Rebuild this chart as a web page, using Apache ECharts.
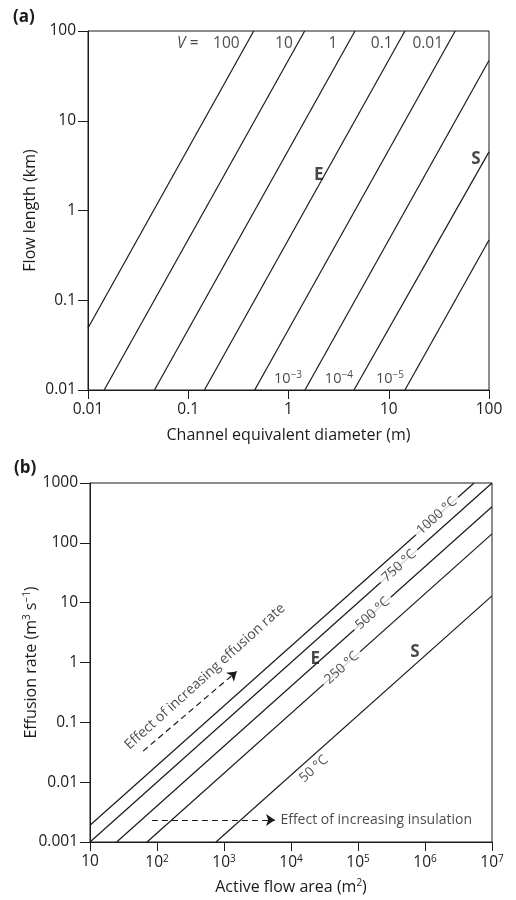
<!DOCTYPE html>
<html>
<head>
<meta charset="utf-8">
<script src="https://cdn.jsdelivr.net/npm/echarts@6/dist/echarts.min.js"></script>
<style>html,body{margin:0;padding:0;background:#fff}</style>
</head>
<body>
<div id="main" style="width:516px;height:900px;"></div>
<script type="text/javascript">
// ---- panel (a): flow length (km) vs channel diameter (m), one line per V ----
var aNames  = ['100', '10', '1', '0.1', '0.01', '10{sup|−3}', '10{sup|−4}', '10{sup|−5}'];
var aStartD = [0.01, 0.0145, 0.046, 0.145, 0.46, 1.46, 4.5, 14.5];
var aStartL = [0.049, 0.01, 0.01, 0.01, 0.01, 0.01, 0.01, 0.01];
var aEndD   = [0.45, 1.45, 4.6, 14.5, 46, 100, 100, 100];
var aEndL   = [100, 100, 100, 100, 100, 47, 4.5, 0.47];
var aTicksX = ['0.01', '0.1', '1', '10', '100'];
var aTicksY = ['0.01', '0.1', '1', '10', '100'];
// where the V labels sit (data coords)
var aTopLabelD = [0.24, 0.9, 2.77, 8.5, 24.5];
var aTopLabelL = 73;
var aLowLabelD = [0.99, 3.18, 10.3];
var aLowLabelL = 0.0133;

// ---- panel (b): effusion rate vs active flow area, one line per temperature ----
var bNames  = ['1000 °C', '750 °C', '500 °C', '250 °C', '50 °C'];
var bStartA = [10, 10, 25, 71, 760];
var bStartQ = [0.0019, 0.001, 0.001, 0.001, 0.001];
var bEndA   = [5.4e6, 1e7, 1e7, 1e7, 1e7];
var bEndQ   = [1000, 1000, 400, 141, 13];
var bLabelA = [1.5e6, 4.1e5, 1.66e5, 5.75e4, 2.19e4];
var bLabelQ = [280, 41, 6.6, 0.81, 0.0166];
var bTicksX = ['10', '10{sup|2}', '10{sup|3}', '10{sup|4}', '10{sup|5}', '10{sup|6}', '10{sup|7}'];
var bTicksY = ['0.001', '0.01', '0.1', '1', '10', '100', '1000'];

var ink = '#1c1a1b';
var FONT = 'Open Sans';
var SLOPE_B = 42;   // on-screen angle of panel (b) lines

function logAxis(grid, min, max, labels, name, isY, gap) {
    var lo = Math.round(Math.log10(min));
    return {
        type: 'log', logBase: 10, gridIndex: grid, min: min, max: max,
        splitNumber: Math.round(Math.log10(max)) - lo,
        name: name, nameLocation: 'middle', nameGap: gap, nameRotate: isY ? 90 : 0,
        nameMoveOverlap: false,
        nameTextStyle: {fontSize: 16, color: ink, fontFamily: FONT,
            rich: {sup: {fontSize: 10, padding: [0, 0, 8, 0], color: ink}}},
        axisLine: {show: true, onZero: false, lineStyle: {color: ink, width: 1}},
        axisTick: {show: true, length: isY ? 10 : 9, lineStyle: {color: ink, width: 1}},
        minorTick: {show: false},
        splitLine: {show: false},
        axisLabel: {
            fontSize: 15.5, color: ink, fontFamily: FONT, margin: 12,
            rich: {sup: {fontSize: 10, padding: [0, 0, 8, 0], color: ink, fontFamily: FONT}},
            formatter: function (v) {
                return labels[Math.round(Math.log10(v)) - lo];
            }
        }
    };
}

function textItem(x, y, text, extra) {
    var lab = {show: true, formatter: text, position: 'inside', color: ink, fontSize: 15.5, fontFamily: FONT,
        rich: {sup: {fontSize: 10, padding: [0, 0, 8, 0], color: ink}, it: {fontStyle: 'italic', fontSize: 15.5, color: ink}}};
    for (var k in extra) lab[k] = extra[k];
    return {value: [x, y], label: lab};
}

var series = [];
for (var i = 0; i < aNames.length; i++) {
    series.push({type: 'line', xAxisIndex: 0, yAxisIndex: 0, symbol: 'none', silent: true, z: 2,
        lineStyle: {color: ink, width: 1.2},
        data: [[aStartD[i], aStartL[i]], [aEndD[i], aEndL[i]]]});
}
for (i = 0; i < bNames.length; i++) {
    series.push({type: 'line', xAxisIndex: 1, yAxisIndex: 1, symbol: 'none', silent: true, z: 2,
        lineStyle: {color: ink, width: 1.2},
        data: [[bStartA[i], bStartQ[i]], [bEndA[i], bEndQ[i]]]});
}

// labels for panel (a)
var aText = [textItem(0.099, aTopLabelL, '{it|V} =')];
for (i = 0; i < 5; i++) aText.push(textItem(aTopLabelD[i], aTopLabelL, aNames[i]));
for (i = 0; i < 3; i++) aText.push(textItem(aLowLabelD[i], aLowLabelL, aNames[i + 5], {fontSize: 14.5}));
aText.push(textItem(2.0, 2.5, 'E', {fontWeight: 'bold', fontSize: 17}));
aText.push(textItem(74, 3.7, 'S', {fontWeight: 'bold', fontSize: 17}));
series.push({type: 'scatter', xAxisIndex: 0, yAxisIndex: 0, symbolSize: 1, silent: true, z: 5,
    itemStyle: {color: 'rgba(0,0,0,0)'}, data: aText});

// labels for panel (b)
var bText = [];
for (i = 0; i < bNames.length; i++) {
    bText.push(textItem(bLabelA[i], bLabelQ[i], bNames[i],
        {rotate: SLOPE_B, fontSize: 13.5, backgroundColor: '#fff', padding: [0, 4]}));
}
bText.push(textItem(2.3e4, 1.12, 'E', {fontWeight: 'bold', fontSize: 17}));
bText.push(textItem(7.1e5, 1.5, 'S', {fontWeight: 'bold', fontSize: 17}));
bText.push(textItem(520, 0.58, 'Effect of increasing effusion rate', {rotate: SLOPE_B, fontSize: 14}));
bText.push(textItem(6600, 0.00233, 'Effect of increasing insulation', {position: 'right', distance: 1, fontSize: 14}));
series.push({type: 'scatter', xAxisIndex: 1, yAxisIndex: 1, symbolSize: 1, silent: true, z: 5,
    itemStyle: {color: 'rgba(0,0,0,0)'}, data: bText});

// dashed arrows
series.push({type: 'lines', coordinateSystem: 'cartesian2d', xAxisIndex: 1, yAxisIndex: 1, silent: true, z: 4,
    symbol: ['none', 'arrow'], symbolSize: 9,
    lineStyle: {color: ink, width: 1.2, type: [6, 4], opacity: 1},
    data: [
        {coords: [[62, 0.033], [1550, 0.71]]},
        {coords: [[84, 0.00233], [5760, 0.00233]]}
    ]});

var myChart = echarts.init(document.getElementById('main'), null, {renderer: 'canvas'});
var option = {
    animation: false,
    backgroundColor: '#fff',
    textStyle: {fontFamily: FONT},
    title: [
        {text: '(a)', left: 8, top: 4, textStyle: {fontSize: 17, fontWeight: 'bold', color: ink, fontFamily: FONT}},
        {text: '(b)', left: 9, top: 455, textStyle: {fontSize: 17, fontWeight: 'bold', color: ink, fontFamily: FONT}}
    ],
    grid: [
        {left: 88, right: 27, top: 31, height: 359, show: true, borderColor: ink, borderWidth: 1},
        {left: 90, right: 24, top: 483, height: 359, show: true, borderColor: ink, borderWidth: 1}
    ],
    xAxis: [
        logAxis(0, 0.01, 100, aTicksX, 'Channel equivalent diameter (m)', false, 37),
        logAxis(1, 10, 1e7, bTicksX, 'Active flow area (m{sup|2})', false, 36)
    ],
    yAxis: [
        logAxis(0, 0.01, 100, aTicksY, 'Flow length (km)', true, 50),
        logAxis(1, 0.001, 1000, bTicksY, 'Effusion rate (m{sup|3} s{sup|−1})', true, 50)
    ],
    series: series
};
myChart.setOption(option);
</script>
</body>
</html>
